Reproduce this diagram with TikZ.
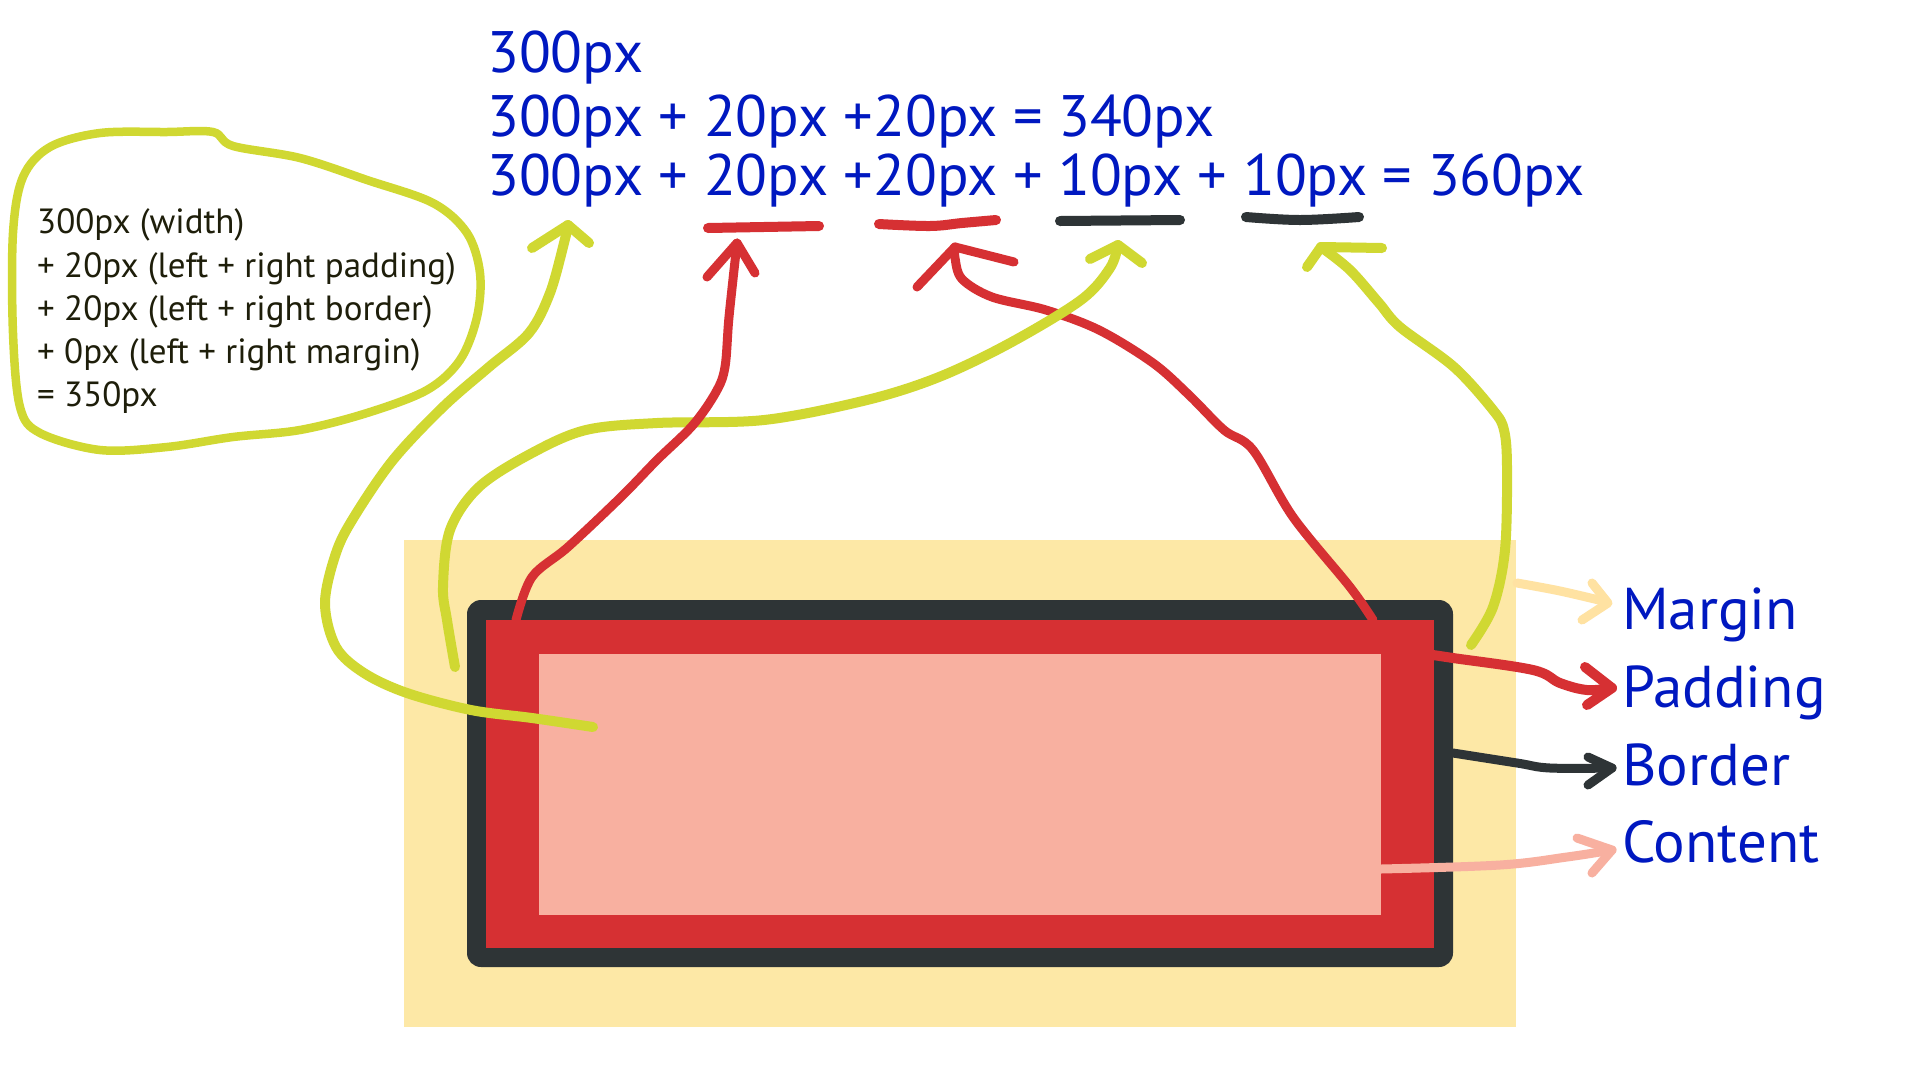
\documentclass[tikz,border=0pt]{standalone}
\usepackage{fontspec}
\setmainfont{PT Sans}
\definecolor{marginc}{HTML}{FDE8A6}
\definecolor{borderc}{HTML}{2E3436}
\definecolor{padc}{HTML}{D63033}
\definecolor{contc}{HTML}{F8B0A0}
\definecolor{hl}{HTML}{D0D832}
\definecolor{blu}{HTML}{0018C0}
\definecolor{ink}{HTML}{1E1E0A}
\definecolor{marr}{HTML}{FFE2A2}
\begin{document}
\begin{tikzpicture}[x=1pt,y=-1pt,
  pen/.style={line cap=round,line join=round},
  ylw/.style={pen,draw=hl,line width=10pt},
  rd/.style={pen,draw=padc,line width=9pt},
  ulstroke/.style={pen,line width=10pt},
  bluetxt/.style={inner sep=0pt,anchor=base west,text=blu,font=\fontsize{58.5}{62}\selectfont},
  labtxt/.style={inner sep=0pt,anchor=base west,text=blu,font=\fontsize{59}{62}\selectfont},
  note/.style={inner sep=0pt,anchor=base west,text=ink,font=\fontsize{35}{40}\selectfont}]
\useasboundingbox[fill=white] (0,0) rectangle (1920,1080);

% box model
\fill[marginc] (404,540) rectangle (1516,1027);
\fill[borderc,rounded corners=14pt] (467,600) rectangle (1453,967);
\fill[padc] (486,620) rectangle (1434,948);
\fill[contc] (539,654) rectangle (1381,915);

% top texts
\node[bluetxt] (t1) at (487,72.7) {300px};
\node[bluetxt] (t2) at (487,136.7) {300px + 20px +20px = 340px};
\node[bluetxt] (t3) at (487,195) {300px + 20px +20px + 10px + 10px = 360px};

% underline dashes
\draw[ulstroke,draw=padc] (708,228) -- (819,226);
\draw[ulstroke,draw=padc] plot[smooth,tension=0.6] coordinates {(879,224) (930,226) (962,223) (996,220)};
\draw[ulstroke,draw=borderc] (1060,221) -- (1180,220);
\draw[ulstroke,draw=borderc] plot[smooth,tension=0.6] coordinates {(1246,217) (1300,220) (1359,217)};

% left note and loop
\node[note] (n1) at (37,233) {300px (width)};
\node[note] (n2) at (37,277) {+ 20px (left + right padding)};
\node[note] (n3) at (37,320) {+ 20px (left + right border)};
\node[note] (n4) at (37,363) {+ 0px (left + right margin)};
\node[note] (n5) at (37,406) {= 350px};
\draw[pen,draw=hl,line width=8.5pt] plot[smooth cycle,tension=0.55] coordinates {
  (213,132) (233,146) (300,158) (367,180) (433,203) (467,233) (480,273) (477,317)
  (460,360) (427,390) (367,413) (300,430) (233,437) (167,447) (100,450) (40,433)
  (20,407) (13,333) (13,233) (23,177) (50,147) (100,133) (167,132)};

% red arrow D (padding right -> second red dash)
\draw[rd] plot[smooth,tension=0.55] coordinates {(1373,620) (1350,587) (1293,517) (1253,450)
  (1224,430) (1189,395) (1153,363) (1099,330) (1046,310) (992,297) (962,279) (955,258) (955,247)};
\draw[rd] (917,287) -- (955,247) -- (1014,262);

% yellow arrow B (margin left -> first dark dash)
\draw[ylw] plot[smooth,tension=0.55] coordinates {(455,667) (447,620) (443,587) (450,530) (479,487)
  (532,453) (586,430) (657,423) (764,420) (867,400) (939,377) (1010,343) (1081,300) (1110,268) (1118,245)};
\draw[ylw] (1090,259) -- (1118,245) -- (1142,263);

% red arrow C (padding left -> first red dash)
\draw[rd] plot[smooth,tension=0.55] coordinates {(516,620) (532,577) (568,547) (621,497)
  (657,460) (693,425) (716,392) (725,367) (729,317) (737,243)};
\draw[rd] (707,277) -- (737,243) -- (755,273);

% yellow arrow A (content -> 300px)
\draw[ylw] plot[smooth,tension=0.55] coordinates {(593,727) (532,718) (471,710) (407,693) (364,673)
  (336,647) (325,603) (336,553) (354,517) (393,460) (443,407) (489,367) (529,333) (550,293)
  (564,243) (568,225)};
\draw[ylw] (532,248) -- (568,225) -- (589,243);

% yellow arrow E (margin right -> second dark dash)
\draw[ylw] plot[smooth,tension=0.55] coordinates {(1471,645) (1493,607) (1505,550) (1507,467)
  (1504,430) (1493,410) (1454,367) (1400,327) (1379,303) (1350,270) (1321,247)};
\draw[ylw] (1307,267) -- (1321,247) -- (1382,248);

% right labels
\node[labtxt] (lm) at (1622,629) {Margin};
\node[labtxt] (lp) at (1622,707) {Padding};
\node[labtxt] (lb) at (1622,785) {Border};
\node[labtxt] (lc) at (1622,862) {Content};

% right arrows
\draw[pen,draw=marr,line width=9pt] plot[smooth,tension=0.6] coordinates {(1517,583) (1560,591) (1607,602)};
\draw[pen,draw=marr,line width=9pt] (1592,583) -- (1608,603) -- (1582,620);
\draw[pen,draw=padc,line width=10pt] plot[smooth,tension=0.6] coordinates {(1433,655) (1453,658) (1533,670) (1560,683) (1587,690) (1612,688)};
\draw[pen,draw=padc,line width=10pt] (1585,667) -- (1612,688) -- (1587,705);
\draw[pen,draw=borderc,line width=9pt] plot[smooth,tension=0.6] coordinates {(1453,753) (1517,763) (1550,768) (1612,768)};
\draw[pen,draw=borderc,line width=9pt] (1588,757) -- (1612,768) -- (1588,785);
\draw[pen,draw=contc,line width=9pt] plot[smooth,tension=0.6] coordinates {(1381,869) (1500,865) (1567,857) (1612,850)};
\draw[pen,draw=contc,line width=9pt] (1577,838) -- (1612,850) -- (1592,873);
\end{tikzpicture}
\end{document}
